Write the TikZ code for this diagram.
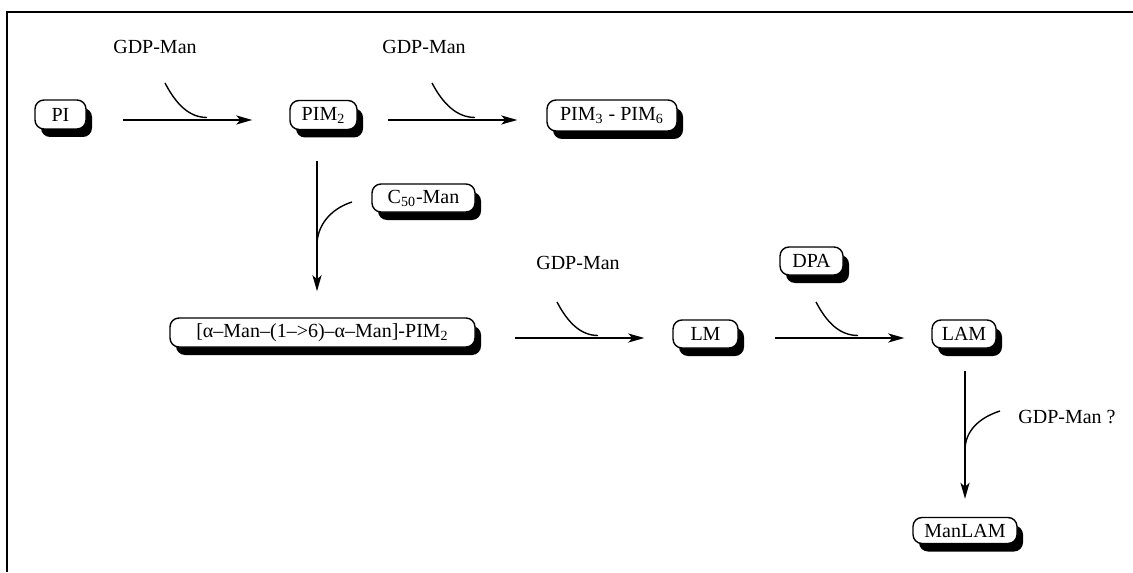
\documentclass[tikz,border=0pt]{standalone}
\usepackage{fontspec}
\setmainfont{Liberation Serif}
\usetikzlibrary{arrows.meta,shadows}
\tikzset{
  box/.style={draw=black, line width=0.7pt, fill=white, rounded corners=4.5pt,
    minimum height=14.5pt, inner xsep=3pt, inner ysep=0pt, font=\fontsize{10}{12}\selectfont,
    drop shadow={shadow xshift=3pt, shadow yshift=-4pt, opacity=1, fill=black}},
  lbl/.style={font=\fontsize{10}{12}\selectfont, inner sep=0pt},
  arr/.style={line width=1pt, -{Stealth[length=8pt,width=4.5pt,inset=2pt]}},
  cur/.style={line width=0.7pt}
}
\begin{document}
\begin{tikzpicture}[x=0.5pt,y=-0.5pt]
\useasboundingbox (0,0) rectangle (1133,572);
\fill[white] (0,0) rectangle (1133,572);
\draw[line width=1pt] (7,572) -- (7,12) -- (1133,12);

% nodes
\node[box, minimum width=25.5pt] (PI) at (60.5,114.5) {PI};
\node[box, minimum width=33.5pt] (PIM2) at (323.5,115) {PIM\textsubscript{2}};
\node[box, minimum width=65pt, minimum height=15.5pt] (PIM36) at (612,115.5) {PIM\textsubscript{3} - PIM\textsubscript{6}};
\node[box, minimum width=51.5pt, minimum height=14pt] (C50) at (423.5,198) {C\textsubscript{50}-Man};
\node[box, minimum width=152.5pt] (DIM) at (322.5,332.5) {[α–Man–(1–>6)–α–Man]-PIM\textsubscript{2}};
\node[box, minimum width=32.5pt, minimum height=14pt] (LM) at (705.5,334) {LM};
\node[box, minimum width=31.5pt, minimum height=14pt] (DPA) at (811.5,261) {DPA};
\node[box, minimum width=32pt, minimum height=14pt] (LAM) at (964,334) {LAM};
\node[box, minimum width=52pt, minimum height=13pt] (ManLAM) at (965,530.5) {ManLAM};

% labels
\node[lbl] (g1) at (155,47) {GDP-Man};
\node[lbl] (g2) at (424,47) {GDP-Man};
\node[lbl] (g3) at (578,263) {GDP-Man};
\node[lbl, anchor=west] (g4) at (1018,417) {GDP-Man ?};

% curve coordinates
\coordinate (c1s) at (165,83);  \coordinate (c1e) at (207,117.5);
\coordinate (c2s) at (432,83);  \coordinate (c2e) at (475,117.5);
\coordinate (c3s) at (352,202); \coordinate (c3e) at (317,245);
\coordinate (c4s) at (557,302); \coordinate (c4e) at (598,335.5);
\coordinate (c5s) at (816,302); \coordinate (c5e) at (858,335.5);
\coordinate (c6s) at (1000,411); \coordinate (c6e) at (965,450);

% main arrows
\draw[arr] ([shift={(36.5,5.5)}]PI.east) -- ([shift={(-37,5)}]PIM2.west);
\draw[arr] ([shift={(30,5)}]PIM2.east) -- ([shift={(-29,4.5)}]PIM36.west);
\draw[arr] ([shift={(-6.5,31)}]PIM2.south) -- ([shift={(-5.5,-26)}]DIM.north);
\draw[arr] ([shift={(39,5.5)}]DIM.east) -- ([shift={(-28,4)}]LM.west);
\draw[arr] ([shift={(36,4)}]LM.east) -- ([shift={(-27,4)}]LAM.west);
\draw[arr] ([shift={(1,22)}]LAM.south) -- ([shift={(0,-18)}]ManLAM.north);

% curved side arrows
\draw[cur] (c1s) .. controls (176,104) and (189,117.5) .. (c1e);
\draw[cur] (c2s) .. controls (443,104) and (457,117.5) .. (c2e);
\draw[cur] (c3s) .. controls (330,209) and (317,226) .. (c3e);
\draw[cur] (c4s) .. controls (568,323) and (581,335.5) .. (c4e);
\draw[cur] (c5s) .. controls (827,323) and (840,335.5) .. (c5e);
\draw[cur] (c6s) .. controls (978,418) and (965,432) .. (c6e);
\end{tikzpicture}
\end{document}
